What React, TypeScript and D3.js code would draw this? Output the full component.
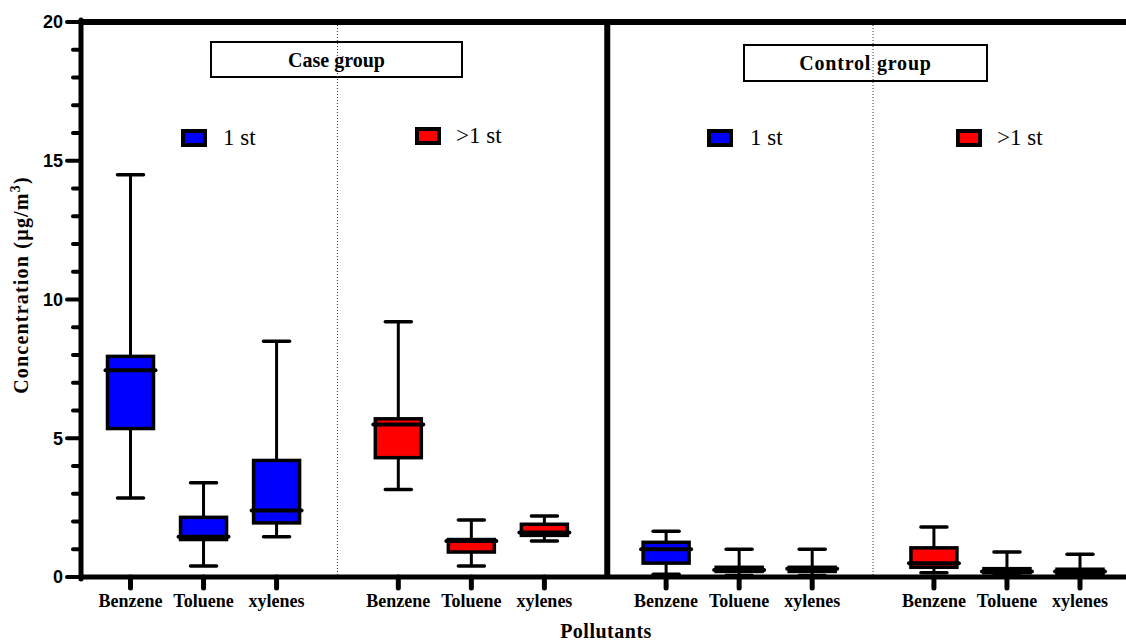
import React from "react";
import * as d3 from "d3";

// ---- data ----
const categories = ["Benzene", "Toluene", "xylenes"];
const panels = ["Case group", "Control group"];
const subgroups = ["1 st", ">1 st"];
const subgroupColors = ["#0000FF", "#FF0000"];
const yTicks = [0, 5, 10, 15, 20];
const yMinorTicks = [1, 2, 3, 4, 6, 7, 8, 9, 11, 12, 13, 14, 16, 17, 18, 19];

// [min, q1, median, q3, max] per category
const caseFirst = [
  [2.85, 5.35, 7.45, 7.95, 14.5],
  [0.4, 1.35, 1.45, 2.15, 3.4],
  [1.45, 1.95, 2.4, 4.2, 8.5],
];
const caseLater = [
  [3.15, 4.3, 5.5, 5.7, 9.2],
  [0.4, 0.9, 1.3, 1.35, 2.05],
  [1.3, 1.5, 1.6, 1.9, 2.2],
];
const controlFirst = [
  [0.1, 0.5, 1.0, 1.25, 1.65],
  [0.05, 0.2, 0.25, 0.35, 1.0],
  [0.05, 0.2, 0.3, 0.35, 1.0],
];
const controlLater = [
  [0.15, 0.35, 0.5, 1.05, 1.8],
  [0.05, 0.15, 0.2, 0.3, 0.9],
  [0.05, 0.12, 0.2, 0.28, 0.82],
];

const seriesList = [
  { panel: 0, sub: 0, stats: caseFirst },
  { panel: 0, sub: 1, stats: caseLater },
  { panel: 1, sub: 0, stats: controlFirst },
  { panel: 1, sub: 1, stats: controlLater },
];

const W = 1126;
const H = 643;
const GROUP_STEP = 11 / 3;

const x = d3.scaleLinear().domain([0, 13]).range([130.5, 1080]);
const y = d3.scaleLinear().domain([0, 20]).range([577, 22]);

const slot = (g: number, i: number) => g * GROUP_STEP + i;

const serif = "'Liberation Serif', 'Times New Roman', serif";
const sans = "'Liberation Sans', Arial, sans-serif";

export default function App() {
  const axisX = 81;
  const boxW = 46;
  const capW = 26;
  const medW = 50;

  const legendPos = [
    [181, 129, 223],
    [415, 127, 456],
    [707, 129, 750],
    [956, 129, 997],
  ];
  const titleBoxes = [
    [211, 42, 251, 35],
    [744, 45, 243, 36],
  ];

  const dotted = [
    (slot(0, 2) + slot(1, 0)) / 2,
    (slot(2, 2) + slot(3, 0)) / 2,
  ];
  const sepX = x((slot(1, 2) + slot(2, 0)) / 2) + 2;

  return (
    <svg
      width={W}
      height={H}
      style={{ position: "absolute", left: 0, top: 0, background: "#fff" }}
    >
      <rect x={0} y={0} width={W} height={H} fill="#fff" />

      {/* title boxes */}
      {panels.map((p, k) => {
        const [bx, by, bw, bh] = titleBoxes[k];
        return (
          <g key={p}>
            <rect x={bx} y={by} width={bw} height={bh} fill="none" stroke="#000" strokeWidth={2} />
            <text
              x={bx + bw / 2}
              y={by + bh / 2 + 7}
              textAnchor="middle"
              fontFamily={serif}
              fontWeight="bold"
              fontSize={20}
              letterSpacing={k === 1 ? 0.8 : 0}
            >
              {p}
            </text>
          </g>
        );
      })}

      {/* dotted separators */}
      {dotted.map((d, k) => (
        <line
          key={k}
          x1={x(d)}
          x2={x(d)}
          y1={y(20)}
          y2={y(0)}
          stroke="#333"
          strokeWidth={1}
          strokeDasharray="1,2"
        />
      ))}

      {/* legends */}
      {seriesList.map((s, k) => {
        const [lx, ly, tx] = legendPos[k];
        return (
          <g key={k}>
            <rect
              x={lx + 2}
              y={ly + 2}
              width={22}
              height={14}
              fill={subgroupColors[s.sub]}
              stroke="#000"
              strokeWidth={4}
            />
            <text x={tx} y={ly + 16} fontFamily={serif} fontSize={23}>
              {subgroups[s.sub]}
            </text>
          </g>
        );
      })}

      {/* boxes */}
      {seriesList.map((s, k) =>
        s.stats.map((st, i) => {
          const cx = x(slot(k, i));
          const [mn, q1, md, q3, mx] = st;
          return (
            <g key={`${k}-${i}`}>
              <line x1={cx} x2={cx} y1={y(mx)} y2={y(q3)} stroke="#000" strokeWidth={3} />
              <line x1={cx} x2={cx} y1={y(q1)} y2={y(mn)} stroke="#000" strokeWidth={3} />
              <line
                x1={cx - capW / 2}
                x2={cx + capW / 2}
                y1={y(mx)}
                y2={y(mx)}
                stroke="#000"
                strokeWidth={3.5}
                strokeLinecap="round"
              />
              <line
                x1={cx - capW / 2}
                x2={cx + capW / 2}
                y1={y(mn)}
                y2={y(mn)}
                stroke="#000"
                strokeWidth={3.5}
                strokeLinecap="round"
              />
              <rect
                x={cx - boxW / 2}
                y={y(q3)}
                width={boxW}
                height={Math.max(0.5, y(q1) - y(q3))}
                fill={subgroupColors[s.sub]}
                stroke="#000"
                strokeWidth={3.5}
              />
              <line
                x1={cx - medW / 2}
                x2={cx + medW / 2}
                y1={y(md)}
                y2={y(md)}
                stroke="#000"
                strokeWidth={4}
                strokeLinecap="round"
              />
            </g>
          );
        })
      )}

      {/* frame top */}
      <line x1={axisX} x2={W} y1={y(20)} y2={y(20)} stroke="#000" strokeWidth={6} />
      {/* panel separator */}
      <line x1={sepX} x2={sepX} y1={y(20)} y2={y(0)} stroke="#000" strokeWidth={6} />
      {/* x axis */}
      <line x1={axisX - 2} x2={W} y1={y(0)} y2={y(0)} stroke="#000" strokeWidth={5} />
      {/* y axis */}
      <line x1={axisX} x2={axisX} y1={y(20) - 2} y2={y(0) + 2} stroke="#000" strokeWidth={5} strokeLinecap="round" />

      {/* y ticks */}
      {yTicks.map((t) => (
        <g key={t}>
          <line x1={67} x2={axisX} y1={y(t)} y2={y(t)} stroke="#000" strokeWidth={4} strokeLinecap="round" />
          <text
            x={63}
            y={y(t)}
            dy="0.36em"
            textAnchor="end"
            fontFamily={sans}
            fontWeight="bold"
            fontSize={18}
          >
            {t}
          </text>
        </g>
      ))}
      {yMinorTicks.map((t) => (
        <line key={t} x1={73} x2={axisX} y1={y(t)} y2={y(t)} stroke="#000" strokeWidth={4} strokeLinecap="round" />
      ))}

      {/* x ticks and labels */}
      {seriesList.map((s, k) =>
        categories.map((c, i) => {
          const cx = x(slot(k, i));
          return (
            <g key={`t${k}-${i}`}>
              <line x1={cx} x2={cx} y1={y(0)} y2={588} stroke="#000" strokeWidth={5} strokeLinecap="round" />
              <text
                x={cx}
                y={607}
                textAnchor="middle"
                fontFamily={serif}
                fontWeight="bold"
                fontSize={18}
              >
                {c}
              </text>
            </g>
          );
        })
      )}

      {/* axis titles */}
      <text
        x={606}
        y={638}
        textAnchor="middle"
        fontFamily={serif}
        fontWeight="bold"
        fontSize={20}
        letterSpacing={0.5}
      >
        Pollutants
      </text>
      <text
        transform={`translate(28,${285}) rotate(-90)`}
        textAnchor="middle"
        fontFamily={serif}
        fontWeight="bold"
        fontSize={20}
        letterSpacing={1.2}
      >
        Concentration (µg/m
        <tspan dy={-8} fontSize={14}>3</tspan>
        <tspan dy={8}>)</tspan>
      </text>
    </svg>
  );
}
